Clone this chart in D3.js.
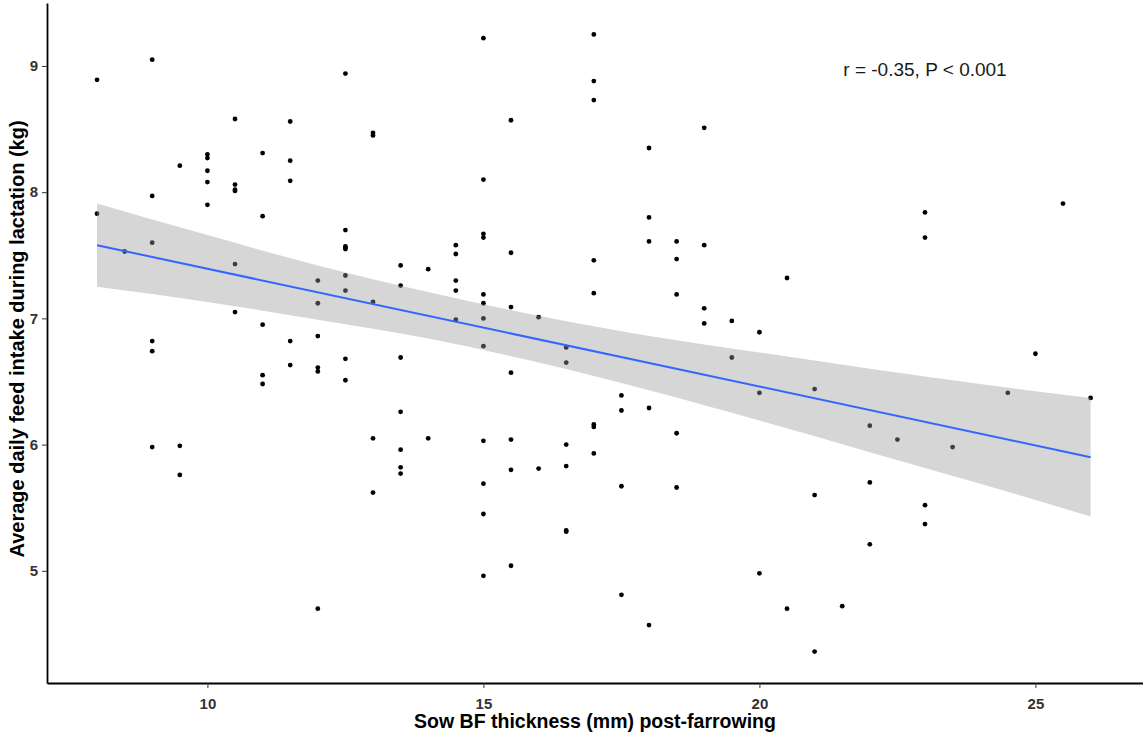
<!DOCTYPE html>
<html>
<head>
<meta charset="utf-8">
<script src="https://cdnjs.cloudflare.com/ajax/libs/d3/7.8.5/d3.min.js"></script>
<style>
  body { margin: 0; background: #fff; }
  svg { display: block; font-family: "Liberation Sans", Arial, sans-serif; }
</style>
</head>
<body>
<svg width="1143" height="738"></svg>
<script>
// backfat thickness (x) and the feed intake values read at each x column
var bfColumns = [8, 8.5, 9, 9.5, 10, 10.5, 11, 11.5, 12, 12.5, 13, 13.5, 14, 14.5, 15, 15.5, 16, 16.5,
                 17, 17.5, 18, 18.5, 19, 19.5, 20, 20.5, 21, 21.5, 22, 22.5, 23, 23.5, 24.5, 25, 25.5, 26];
var intakeValues = [
    [8.89, 7.83],
    [7.53],
    [9.05, 7.97, 7.60, 6.82, 6.74, 5.98],
    [8.21, 5.99, 5.76],
    [8.30, 8.27, 8.17, 8.08, 7.90],
    [8.58, 8.06, 8.02, 8.01, 7.43, 7.05],
    [8.31, 7.81, 6.95, 6.55, 6.48],
    [8.56, 8.25, 8.09, 6.82, 6.63],
    [7.30, 7.12, 6.86, 6.61, 6.58, 4.70],
    [8.94, 7.70, 7.57, 7.56, 7.55, 7.34, 7.22, 6.68, 6.51],
    [8.47, 8.45, 7.13, 6.05, 5.62],
    [7.42, 7.26, 6.69, 6.26, 5.96, 5.82, 5.77],
    [7.39, 6.05],
    [7.58, 7.51, 7.30, 7.22, 6.99],
    [9.22, 8.10, 7.67, 7.64, 7.19, 7.12, 7.00, 6.78, 6.03, 5.69, 5.45, 4.96],
    [8.57, 7.52, 7.09, 6.57, 6.04, 5.80, 5.04],
    [7.01, 5.81],
    [6.77, 6.65, 6.00, 5.83, 5.32, 5.31],
    [9.25, 8.88, 8.73, 7.46, 7.20, 6.16, 6.14, 5.93],
    [6.39, 6.27, 5.67, 4.81],
    [8.35, 7.80, 7.61, 6.29, 4.57],
    [7.61, 7.47, 7.19, 6.09, 5.66],
    [8.51, 7.58, 7.08, 6.96],
    [6.98, 6.69],
    [6.89, 6.41, 4.98],
    [7.32, 4.70],
    [6.44, 5.60, 4.36],
    [4.72],
    [6.15, 5.70, 5.21],
    [6.04],
    [7.84, 7.64, 5.52, 5.37],
    [5.98],
    [6.41],
    [6.72],
    [7.91],
    [6.37]
];

// fitted line and its confidence band
var fitX = [8, 26];
var fitY = [7.58, 5.90];
var bandX  = [8,    10,   12,   14,   16,   18,   20,   22,   24,   26];
var bandHi = [7.91, 7.66, 7.42, 7.21, 7.02, 6.86, 6.73, 6.60, 6.48, 6.37];
var bandLo = [7.25, 7.13, 6.99, 6.84, 6.65, 6.43, 6.19, 5.94, 5.69, 5.43];

var xTicks = [10, 15, 20, 25];
var yTicks = [5, 6, 7, 8, 9];
var statLabel = "r = -0.35, P < 0.001";

var margin = { top: 3, right: 0, bottom: 55, left: 47 },
    width = 1143 - margin.left - margin.right,
    height = 738 - margin.top - margin.bottom;

var svg = d3.select("svg");
var g = svg.append("g")
    .attr("transform", "translate(" + margin.left + "," + margin.top + ")");

var x = d3.scaleLinear().domain([7.094, 26.949]).range([0, width]);
var y = d3.scaleLinear().domain([4.111, 9.499]).range([height, 0]);

// flatten the columns into points
var points = [];
bfColumns.forEach(function (bf, i) {
    intakeValues[i].forEach(function (v) {
        points.push({ bf: bf, intake: v });
    });
});

g.selectAll(".dot")
    .data(points)
    .enter().append("circle")
    .attr("class", "dot")
    .attr("cx", function (d) { return x(d.bf); })
    .attr("cy", function (d) { return y(d.intake); })
    .attr("r", 2.4)
    .attr("fill", "#000");

// confidence band sits on top of the points, like ggplot
var band = bandX.map(function (v, i) { return { x: v, lo: bandLo[i], hi: bandHi[i] }; });
g.append("path")
    .datum(band)
    .attr("fill", "#999999")
    .attr("fill-opacity", 0.4)
    .attr("d", d3.area()
        .x(function (d) { return x(d.x); })
        .y0(function (d) { return y(d.lo); })
        .y1(function (d) { return y(d.hi); })
        .curve(d3.curveMonotoneX));

g.append("path")
    .datum(fitX.map(function (v, i) { return { x: v, y: fitY[i] }; }))
    .attr("fill", "none")
    .attr("stroke", "#3366FF")
    .attr("stroke-width", 2)
    .attr("d", d3.line()
        .x(function (d) { return x(d.x); })
        .y(function (d) { return y(d.y); }));

// axes
var xAxis = g.append("g")
    .attr("transform", "translate(0," + height + ")")
    .call(d3.axisBottom(x).tickValues(xTicks).tickFormat(d3.format("d"))
        .tickSize(5).tickPadding(10).tickSizeOuter(0));

var yAxis = g.append("g")
    .call(d3.axisLeft(y).tickValues(yTicks).tickFormat(d3.format("d"))
        .tickSize(5).tickPadding(4).tickSizeOuter(0));

[xAxis, yAxis].forEach(function (ax) {
    ax.select(".domain").attr("stroke", "#000").attr("stroke-width", 1.8);
    ax.selectAll(".tick line").attr("stroke", "#333");
    ax.selectAll(".tick text")
        .style("font-family", "'Liberation Sans', Arial, sans-serif")
        .style("font-size", "15px")
        .style("font-weight", "bold")
        .style("fill", "#333");
});

// axis titles
svg.append("text")
    .attr("x", margin.left + width / 2)
    .attr("y", 728)
    .attr("text-anchor", "middle")
    .style("font-size", "19.5px")
    .style("font-weight", "bold")
    .text("Sow BF thickness (mm) post-farrowing");

svg.append("text")
    .attr("transform", "translate(24," + (margin.top + height / 2 - 4) + ")rotate(-90)")
    .attr("text-anchor", "middle")
    .style("font-size", "20px")
    .style("font-weight", "bold")
    .text("Average daily feed intake during lactation (kg)");

// correlation note
g.append("text")
    .attr("x", x(23))
    .attr("y", y(8.97))
    .attr("text-anchor", "middle")
    .attr("dy", "0.35em")
    .style("font-size", "19px")
    .style("fill", "#1a1a1a")
    .text(statLabel);
</script>
</body>
</html>
